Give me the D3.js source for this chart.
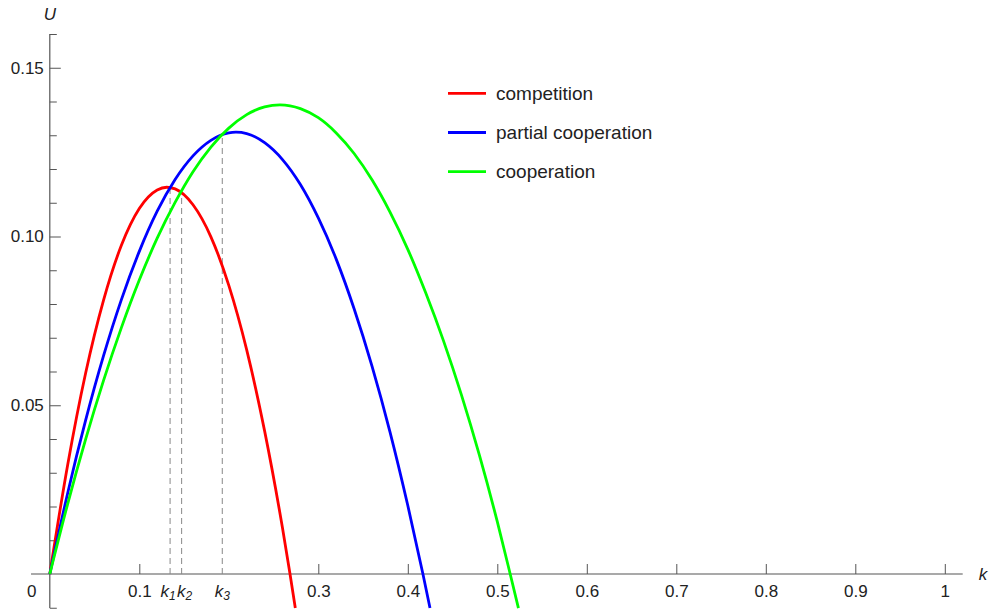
<!DOCTYPE html>
<html>
<head>
<meta charset="utf-8">
<script src="https://cdn.jsdelivr.net/npm/d3@7"></script>
<style>
  html, body { margin: 0; padding: 0; background: #fff; }
  svg { display: block; font-family: "Liberation Sans", Arial, sans-serif; }
</style>
</head>
<body>
<svg id="chart" width="993" height="614"></svg>
<script>
// ---- data ----
const competitionK = [0, 0.02, 0.04, 0.06, 0.08, 0.10, 0.12, 0.1306, 0.14, 0.16, 0.18, 0.20, 0.22, 0.24, 0.26, 0.2684, 0.2743];
const competitionU = [0, 0.0324, 0.0595, 0.0811, 0.0974, 0.1083, 0.1138, 0.1146, 0.1141, 0.1094, 0.0999, 0.0855, 0.0664, 0.0424, 0.0136, 0, -0.0101];

const partialK = [0, 0.02, 0.04, 0.06, 0.08, 0.10, 0.12, 0.14, 0.16, 0.18, 0.20, 0.208, 0.22, 0.24, 0.26, 0.28, 0.30, 0.32, 0.34, 0.36, 0.38, 0.40, 0.4169, 0.4248];
const partialU = [0, 0.0240, 0.0455, 0.0646, 0.0813, 0.0956, 0.1075, 0.1169, 0.1239, 0.1285, 0.1307, 0.1309, 0.1305, 0.1278, 0.1228, 0.1154, 0.1055, 0.0933, 0.0786, 0.0616, 0.0422, 0.0203, 0, -0.0101];

const cooperationK = [0, 0.02, 0.04, 0.06, 0.08, 0.10, 0.12, 0.14, 0.16, 0.18, 0.20, 0.22, 0.24, 0.2572, 0.28, 0.30, 0.32, 0.34, 0.36, 0.38, 0.40, 0.42, 0.44, 0.46, 0.48, 0.50, 0.5144, 0.5236];
const cooperationU = [0, 0.0208, 0.0399, 0.0573, 0.0730, 0.0871, 0.0995, 0.1101, 0.1192, 0.1265, 0.1321, 0.1361, 0.1384, 0.1390, 0.1379, 0.1352, 0.1307, 0.1246, 0.1168, 0.1073, 0.0962, 0.0833, 0.0690, 0.0530, 0.0352, 0.0155, 0, -0.0101];

const seriesNames = ["competition", "partial cooperation", "cooperation"];
const seriesColors = ["#ff0000", "#0000ff", "#00ff00"];

const markK = [0.1344, 0.1473, 0.1927];
const markU = [0.1145, 0.1133, 0.1301];
const markSub = ["1", "2", "3"];

const xTickValues = [0.1, 0.3, 0.4, 0.5, 0.6, 0.7, 0.8, 0.9, 1];
const xTickLabels = ["0.1", "0.3", "0.4", "0.5", "0.6", "0.7", "0.8", "0.9", "1"];
const yMajorValues = [0.05, 0.10, 0.15];
const yMajorLabels = ["0.05", "0.10", "0.15"];
const yMinorValues = [-0.01, 0.01, 0.02, 0.03, 0.04, 0.06, 0.07, 0.08, 0.09, 0.11, 0.12, 0.13, 0.14, 0.16];
const xAxisExtent = [-0.021, 1.02];
const yAxisExtent = [-0.0101, 0.16];

// ---- scales ----
const svg = d3.select("#chart");
const x = d3.scaleLinear().domain([0, 1]).range([49.8, 944.8]);
const y = d3.scaleLinear().domain([0, 0.15]).range([574, 67.75]);
const axisColor = "#555";

// axis lines
svg.append("line")
  .attr("x1", x(xAxisExtent[0])).attr("x2", x(xAxisExtent[1]))
  .attr("y1", y(0)).attr("y2", y(0))
  .attr("stroke", axisColor).attr("stroke-width", 1.2);
svg.append("line")
  .attr("x1", x(0)).attr("x2", x(0))
  .attr("y1", y(yAxisExtent[0])).attr("y2", y(yAxisExtent[1]))
  .attr("stroke", axisColor).attr("stroke-width", 1.2);

// x axis ticks
const xAxis = d3.axisBottom(x)
  .tickValues(xTickValues)
  .tickFormat((d, i) => xTickLabels[i])
  .tickSizeInner(-10).tickSizeOuter(0).tickPadding(11);
const gx = svg.append("g").attr("transform", `translate(0,${y(0)})`).call(xAxis);
gx.select(".domain").remove();
gx.selectAll(".tick line").attr("stroke", axisColor);
gx.selectAll(".tick text").attr("font-size", 17).attr("fill", "#222")
  .attr("font-family", "Liberation Sans, Arial, sans-serif");

// "0" origin label
svg.append("text").attr("x", x(0) - 18).attr("y", y(0) + 11).attr("dy", "0.71em")
  .attr("text-anchor", "middle").attr("font-size", 17).attr("fill", "#222").text("0");

// y axis major ticks
const yAxis = d3.axisLeft(y)
  .tickValues(yMajorValues)
  .tickFormat((d, i) => yMajorLabels[i])
  .tickSizeInner(-11).tickSizeOuter(0).tickPadding(6);
const gy = svg.append("g").attr("transform", `translate(${x(0)},0)`).call(yAxis);
gy.select(".domain").remove();
gy.selectAll(".tick line").attr("stroke", axisColor);
gy.selectAll(".tick text").attr("font-size", 17).attr("fill", "#222")
  .attr("font-family", "Liberation Sans, Arial, sans-serif");

// y axis minor ticks
const yMinor = d3.axisLeft(y).tickValues(yMinorValues).tickFormat("")
  .tickSizeInner(-7).tickSizeOuter(0);
const gym = svg.append("g").attr("transform", `translate(${x(0)},0)`).call(yMinor);
gym.select(".domain").remove();
gym.selectAll(".tick line").attr("stroke", axisColor);

// axis titles
svg.append("text").attr("x", x(0)).attr("y", 20).attr("text-anchor", "middle")
  .attr("font-size", 17).attr("font-style", "italic").attr("fill", "#222").text("U");
svg.append("text").attr("x", 983).attr("y", 580).attr("text-anchor", "middle")
  .attr("font-size", 17).attr("font-style", "italic").attr("fill", "#222").text("k");

// dashed markers
markK.forEach((k, i) => {
  svg.append("line")
    .attr("x1", x(k)).attr("x2", x(k))
    .attr("y1", y(0)).attr("y2", y(markU[i]))
    .attr("stroke", "#888").attr("stroke-width", 1)
    .attr("stroke-dasharray", "6,4");
});
const markOffsets = [-2, 3, 0];
markK.forEach((k, i) => {
  const t = svg.append("text")
    .attr("x", x(k) + markOffsets[i]).attr("y", y(0) + 23)
    .attr("text-anchor", "middle").attr("font-size", 17)
    .attr("font-style", "italic").attr("fill", "#222");
  t.append("tspan").text("k");
  t.append("tspan").attr("font-size", 12).attr("dy", 3).text(markSub[i]);
});

// curves
const seriesK = [competitionK, partialK, cooperationK];
const seriesU = [competitionU, partialU, cooperationU];
const line = d3.line()
  .x(d => x(d[0])).y(d => y(d[1]))
  .curve(d3.curveMonotoneX);
seriesK.forEach((ks, i) => {
  const pts = ks.map((k, j) => [k, seriesU[i][j]]);
  svg.append("path").datum(pts)
    .attr("d", line)
    .attr("fill", "none")
    .attr("stroke", seriesColors[i])
    .attr("stroke-width", 2.8)
    .attr("stroke-linejoin", "round");
});

// legend
const legendX = 448, legendY0 = 93.3, legendDY = 39.2;
seriesNames.forEach((name, i) => {
  const yy = legendY0 + i * legendDY;
  svg.append("line").attr("x1", legendX).attr("x2", legendX + 38)
    .attr("y1", yy).attr("y2", yy)
    .attr("stroke", seriesColors[i]).attr("stroke-width", 2.8);
  svg.append("text").attr("x", legendX + 48).attr("y", yy).attr("dy", "0.35em")
    .attr("font-size", 19).attr("fill", "#222").text(name);
});
</script>
</body>
</html>
